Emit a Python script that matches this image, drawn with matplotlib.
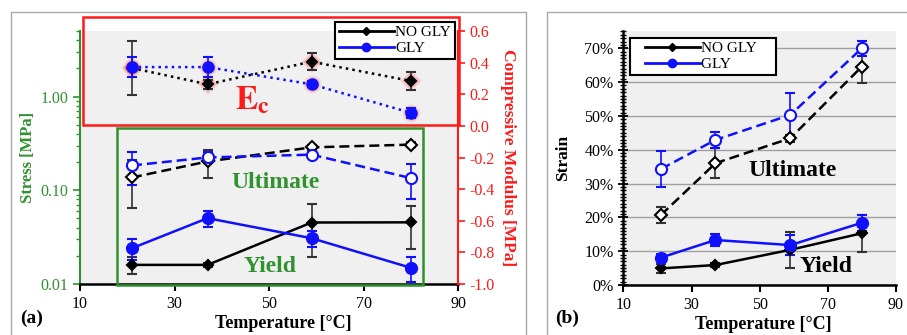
import matplotlib.pyplot as plt
from matplotlib.legend_handler import HandlerLine2D
from matplotlib.lines import Line2D
from matplotlib.patches import Rectangle
from matplotlib.ticker import FixedLocator, FuncFormatter, LogLocator, MultipleLocator, PercentFormatter

plt.rcParams["font.family"] = ["Liberation Serif", "DejaVu Serif"]
plt.rcParams["mathtext.fontset"] = "stix"
plt.rcParams["axes.unicode_minus"] = False

GREEN = "#2f922f"
RED = "#ff1a1a"
BLUE = "#1010ff"
GRAY_BG = "#f0f0f0"

temperature = [21, 37, 59, 80]
series_labels = ["NO GLY", "GLY"]

# (a) stress [MPa], log axis
ult_stress_nogly = [0.137, 0.203, 0.287, 0.307]
ult_stress_nogly_err = [0.072, 0.067, 0.015, 0.02]
ult_stress_gly = [0.184, 0.224, 0.240, 0.135]
ult_stress_gly_err = [0.07, 0.03, 0.015, 0.055]
yld_stress_nogly = [0.016, 0.016, 0.0453, 0.0455]
yld_stress_nogly_err = [0.0033, 0.0008, 0.026, 0.022]
yld_stress_gly = [0.0241, 0.0504, 0.0308, 0.0149]
yld_stress_gly_err = [0.006, 0.01, 0.006, 0.0045]

# (a) compressive modulus [MPa], right axis
ec_nogly = [0.366, 0.263, 0.406, 0.284]
ec_nogly_err = [0.17, 0.03, 0.053, 0.056]
ec_gly = [0.372, 0.372, 0.263, 0.083]
ec_gly_err = [0.065, 0.065, 0.02, 0.03]

# (b) strain
ult_strain_nogly = [0.207, 0.360, 0.434, 0.646]
ult_strain_nogly_err = [0.025, 0.045, 0.01, 0.048]
ult_strain_gly = [0.343, 0.429, 0.503, 0.700]
ult_strain_gly_err = [0.054, 0.024, 0.066, 0.023]
yld_strain_nogly = [0.049, 0.059, 0.104, 0.153]
yld_strain_nogly_err = [0.013, 0.005, 0.053, 0.054]
yld_strain_gly = [0.081, 0.133, 0.118, 0.184]
yld_strain_gly_err = [0.01, 0.018, 0.03, 0.023]

x_ticks = [10, 30, 50, 70, 90]
TICK_FS = 11.5
LABEL_FS = 12.5


def series(ax, y, err, color, ecolor, marker, ms, ls, filled=True, zorder=3):
    ax.errorbar(
        temperature, y, yerr=err, color=color, ecolor=ecolor, elinewidth=1.2,
        capsize=3.5, capthick=1.2, marker=marker, markersize=ms, linestyle=ls,
        linewidth=1.8, markerfacecolor=color if filled else "white",
        markeredgecolor=color, markeredgewidth=1.5, zorder=zorder,
    )


def legend_handles():
    return [
        Line2D([], [], color="black", lw=2, marker="D", markersize=4),
        Line2D([], [], color=BLUE, lw=2, marker="o", markersize=6),
    ]


fig = plt.figure(figsize=(9.07, 3.35), dpi=100)

# panel frames
fig.add_artist(Rectangle((11 / 907, -0.05), 515 / 907, 1.05 - 12 / 335, transform=fig.transFigure,
                         fill=False, edgecolor="#a8a8a8", lw=1))
fig.add_artist(Rectangle((547 / 907, -0.05), 0.45, 1.05 - 12 / 335, transform=fig.transFigure,
                         fill=False, edgecolor="#a8a8a8", lw=1))

# ---------------- panel (a) ----------------
ax_a = fig.add_axes([0.0882, 0.1522, 0.4168, 0.7552])
ax_a.set_facecolor(GRAY_BG)
ax_a.set_yscale("log")
ax_a.set_xlim(10, 90)
ax_a.set_ylim(0.01, 5.0)

series(ax_a, ult_stress_nogly, ult_stress_nogly_err, "black", "#333333", "D", 6, (0, (4, 2)), filled=False)
series(ax_a, ult_stress_gly, ult_stress_gly_err, BLUE, BLUE, "o", 8, (0, (4, 2)), filled=False)
series(ax_a, yld_stress_nogly, yld_stress_nogly_err, "black", "#333333", "D", 5, "-")
series(ax_a, yld_stress_gly, yld_stress_gly_err, BLUE, BLUE, "o", 8, "-")

ax_a.yaxis.set_major_locator(FixedLocator([0.01, 0.1, 1.0]))
ax_a.yaxis.set_minor_locator(LogLocator(base=10, subs=range(2, 10)))
ax_a.yaxis.set_major_formatter(FuncFormatter(lambda v, p: f"{v:.2f}"))
ax_a.yaxis.set_minor_formatter(FuncFormatter(lambda v, p: ""))
ax_a.set_xticks(x_ticks)
ax_a.tick_params(axis="y", which="both", colors=GREEN, labelsize=TICK_FS, direction="out")
ax_a.tick_params(axis="y", which="major", length=5, width=1.2)
ax_a.tick_params(axis="y", which="minor", length=3, width=1)
ax_a.tick_params(axis="x", labelsize=TICK_FS, length=5, width=1.5, direction="out")
for s in ("top", "right"):
    ax_a.spines[s].set_visible(False)
ax_a.spines["left"].set_color(GREEN)
ax_a.spines["left"].set_linewidth(1.5)
ax_a.spines["bottom"].set_linewidth(1.8)
ax_a.set_ylabel("Stress [MPa]", color=GREEN, fontsize=LABEL_FS - 0.5, fontweight="bold", labelpad=3)
ax_a.set_xlabel("Temperature [°C]", fontsize=LABEL_FS + 0.5, fontweight="bold")
ax_a.xaxis.set_label_coords(0.537, -0.122)

ax_a.text(51.3, 0.121, "Ultimate", color=GREEN, fontsize=17, fontweight="bold", ha="center", va="center")
ax_a.text(50.2, 0.0153, "Yield", color=GREEN, fontsize=17, fontweight="bold", ha="center", va="center")

ax_ec = ax_a.twinx()
ax_ec.set_ylim(-1.0, 0.6)
# soft red glow behind modulus markers
for ms, alpha in ((13, 0.10), (10.5, 0.18)):
    ax_ec.plot(temperature, ec_nogly, "D", color=RED, alpha=alpha, markersize=ms - 1.5, markeredgewidth=0, zorder=2)
    ax_ec.plot(temperature, ec_gly, "o", color=RED, alpha=alpha, markersize=ms, markeredgewidth=0, zorder=2)
series(ax_ec, ec_nogly, ec_nogly_err, "black", "#333333", "D", 5.5, ":")
series(ax_ec, ec_gly, ec_gly_err, BLUE, BLUE, "o", 7.5, ":")
ax_ec.set_yticks([-1.0, -0.8, -0.6, -0.4, -0.2, 0.0, 0.2, 0.4, 0.6])
ax_ec.yaxis.set_major_formatter(FuncFormatter(lambda v, p: f"{v:.1f}"))
ax_ec.tick_params(axis="y", colors=RED, labelsize=TICK_FS, length=5, width=1.2, direction="out")
for s in ("top", "left", "bottom"):
    ax_ec.spines[s].set_visible(False)
ax_ec.spines["right"].set_color(RED)
ax_ec.spines["right"].set_linewidth(1.5)
ax_ec.set_ylabel("Compressive Modulus [MPa]", color=RED, fontsize=LABEL_FS, fontweight="bold",
                 rotation=270, labelpad=15)
ax_ec.text(46.6, 0.16, r"$\mathbf{E_c}$", color=RED, fontsize=24, ha="center", va="center")

fig.add_artist(Rectangle((83 / 907, 1 - 125 / 335), 376 / 907, 108.3 / 335, transform=fig.transFigure,
                         fill=False, edgecolor=RED, lw=1.8, zorder=1))
fig.add_artist(Rectangle((117 / 907, 1 - 285 / 335), 305.7 / 907, 157.3 / 335, transform=fig.transFigure,
                         fill=False, edgecolor=GREEN, lw=1.8, zorder=1))

leg_a = fig.legend(legend_handles(), series_labels, loc="upper right",
                   bbox_to_anchor=(455 / 907, 1 - 21.7 / 335),
                   fontsize=11, frameon=True, fancybox=False, framealpha=1, edgecolor="black",
                   handlelength=3.6, borderpad=0.25, labelspacing=0.15, handletextpad=0.1, borderaxespad=0)
leg_a.get_frame().set_linewidth(1.5)

fig.text(20 / 907, 1 - 318 / 335, "(a)", fontsize=14, fontweight="bold", va="center")

# ---------------- panel (b) ----------------
ax_b = fig.add_axes([0.6874, 0.1493, 0.3004, 0.757])
ax_b.set_facecolor(GRAY_BG)
ax_b.set_xlim(10, 90)
ax_b.set_ylim(0, 0.75)
ax_b.set_axisbelow(True)
ax_b.grid(axis="y", color="#a0a0a0", lw=1)

series(ax_b, ult_strain_nogly, ult_strain_nogly_err, "black", "#333333", "D", 6, (0, (4, 2)), filled=False)
series(ax_b, ult_strain_gly, ult_strain_gly_err, BLUE, BLUE, "o", 8, (0, (4, 2)), filled=False)
series(ax_b, yld_strain_nogly, yld_strain_nogly_err, "black", "#333333", "D", 5, "-")
series(ax_b, yld_strain_gly, yld_strain_gly_err, BLUE, BLUE, "o", 8, "-")

ax_b.set_xticks(x_ticks)
ax_b.yaxis.set_major_locator(MultipleLocator(0.1))
ax_b.yaxis.set_minor_locator(MultipleLocator(0.01))
ax_b.yaxis.set_major_formatter(PercentFormatter(1.0, decimals=0))
ax_b.tick_params(axis="y", which="major", labelsize=TICK_FS, length=7, width=1.3, direction="inout")
ax_b.tick_params(axis="y", which="minor", length=4, width=1, direction="inout")
ax_b.tick_params(axis="x", labelsize=TICK_FS, length=5, width=1.5, direction="out")
for s in ("top", "right"):
    ax_b.spines[s].set_visible(False)
ax_b.spines["left"].set_linewidth(1.8)
ax_b.spines["bottom"].set_linewidth(1.8)
ax_b.set_ylabel("Strain", fontsize=LABEL_FS, fontweight="bold", labelpad=10)
ax_b.set_xlabel("Temperature [°C]", fontsize=LABEL_FS + 0.5, fontweight="bold")
ax_b.xaxis.set_label_coords(0.515, -0.122)
ax_b.text(59.7, 0.338, "Ultimate", color="black", fontsize=17, fontweight="bold", ha="center", va="center")
ax_b.text(69.4, 0.054, "Yield", color="black", fontsize=17, fontweight="bold", ha="center", va="center")

leg_b = ax_b.legend(legend_handles(), [lab + "\u2002\u2002" for lab in series_labels],
                    loc="upper left", bbox_to_anchor=(0.024, 0.975),
                    handler_map={Line2D: HandlerLine2D(xpad=0.7)},
                    fontsize=11, frameon=True, fancybox=False, framealpha=1, edgecolor="black",
                    handlelength=4.3, borderpad=0.25, labelspacing=0.15, handletextpad=0.1, borderaxespad=0)
leg_b.get_frame().set_linewidth(1.5)

fig.text(555 / 907, 1 - 318 / 335, "(b)", fontsize=14, fontweight="bold", va="center")

fig.savefig("out.png", dpi=100)
